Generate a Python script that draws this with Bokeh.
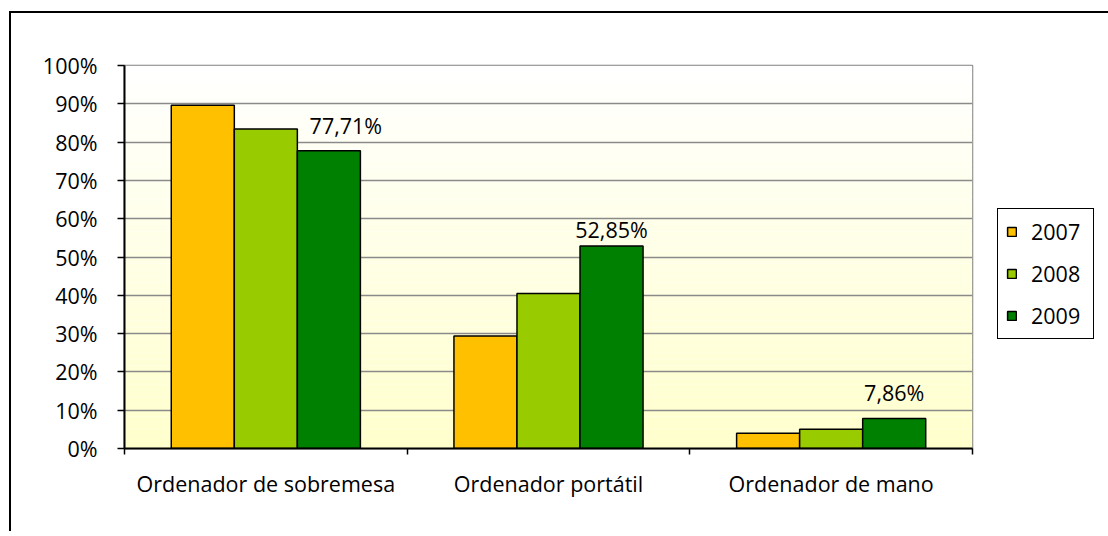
from bokeh.plotting import figure
from bokeh.models import (ColumnDataSource, FixedTicker, Legend, LegendItem,
                          Range1d, InlineStyleSheet)
from bokeh.embed import file_html
from bokeh.resources import INLINE
from bokeh.core.properties import value
import numpy as np

# ---------------- data ----------------
categories = ["Ordenador de sobremesa", "Ordenador portátil", "Ordenador de mano"]
years = ["2007", "2008", "2009"]
v2007 = [89.6, 29.4, 4.0]
v2008 = [83.4, 40.5, 5.0]
v2009 = [77.71, 52.85, 7.86]
label_texts = ["77,71%", "52,85%", "7,86%"]
y_ticks = [0, 10, 20, 30, 40, 50, 60, 70, 80, 90, 100]
y_tick_labels = ["0%", "10%", "20%", "30%", "40%", "50%", "60%", "70%", "80%", "90%", "100%"]

# ---------------- style ----------------
colors = ["#FFC000", "#99CC00", "#008000"]
FONT = "Open Sans"
FS = "21.5px"
bar_w = 0.223
offsets = [-bar_w, 0.0, bar_w]
label_dx = [17, 0, 0]
label_dy = [-11, -2, -11]

border_css = InlineStyleSheet(css=":host { margin-left: 9px; margin-top: 11px; border-left: 2px solid black; border-top: 2px solid black; }")

p = figure(frame_width=848, frame_height=383, x_range=Range1d(0, 3), y_range=Range1d(0, 100),
           output_backend="svg", toolbar_location=None,
           min_border_left=113, min_border_right=129, min_border_top=52, min_border_bottom=83,
           stylesheets=[border_css])
p.background_fill_color = None
p.border_fill_color = "white"
p.outline_line_color = "#808080"
p.outline_line_width = 1.5

# gradient background of plot area (white at top -> light yellow at bottom)
n_bands = 60
edges = np.linspace(0, 100, n_bands + 1)
c_bottom = np.array([255, 255, 204])
c_top = np.array([255, 255, 255])
band_colors = []
for i in range(n_bands):
    t = (edges[i] + edges[i + 1]) / 200.0
    c = c_bottom + (c_top - c_bottom) * t
    band_colors.append("#%02x%02x%02x" % tuple(int(round(x)) for x in c))
p.quad(left=0, right=3, bottom=edges[:-1], top=edges[1:], fill_color=band_colors,
       line_color=None, level="underlay")

# grid
p.xgrid.visible = False
p.ygrid.ticker = FixedTicker(ticks=y_ticks)
p.ygrid.grid_line_color = "#8a8a8a"
p.ygrid.grid_line_width = 1.5
p.ygrid.level = "underlay"

# bars
cat_centers = [i + 0.5 for i in range(len(categories))]
series = [v2007, v2008, v2009]
renderers = []
for k, (yr, vals) in enumerate(zip(years, series)):
    src = ColumnDataSource(dict(x=[c + offsets[k] for c in cat_centers], top=vals))
    r = p.vbar(x="x", top="top", width=bar_w, bottom=0, source=src,
               fill_color=colors[k], line_color="black", line_width=1.5)
    renderers.append(r)

# data labels for 2009
lab_src = ColumnDataSource(dict(x=[c + offsets[2] for c in cat_centers], y=v2009,
                                text=label_texts, dx=label_dx, dy=label_dy))
p.text(x="x", y="y", text="text", x_offset="dx", y_offset="dy", source=lab_src,
       text_align="center", text_baseline="bottom", text_font=value(FONT),
       text_font_size=FS, text_color="black")

# y axis
ya = p.yaxis[0]
ya.ticker = FixedTicker(ticks=y_ticks)
ya.major_label_overrides = {t: l for t, l in zip(y_ticks, y_tick_labels)}
ya.axis_line_color = "black"
ya.axis_line_width = 2
ya.major_tick_line_color = "black"
ya.major_tick_line_width = 1.5
ya.major_tick_out = 7
ya.major_tick_in = 0
ya.minor_tick_line_color = None
ya.major_label_standoff = 20
ya.major_label_text_font = FONT
ya.major_label_text_font_size = FS
ya.major_label_text_color = "black"

# x axis (labels at category centres, ticks at category boundaries)
xa = p.xaxis[0]
xa.ticker = FixedTicker(ticks=cat_centers, minor_ticks=[0, 1, 2, 3])
xa.major_label_overrides = {c: n for c, n in zip(cat_centers, categories)}
xa.axis_line_color = "black"
xa.axis_line_width = 2
xa.major_tick_line_color = None
xa.major_tick_out = 0
xa.major_tick_in = 0
xa.minor_tick_line_color = "black"
xa.minor_tick_line_width = 1.5
xa.minor_tick_out = 6
xa.minor_tick_in = 0
xa.major_label_standoff = 14
xa.major_label_text_font = FONT
xa.major_label_text_font_size = FS
xa.major_label_text_color = "black"

# legend
legend = Legend(items=[LegendItem(label=yr, renderers=[r]) for yr, r in zip(years, renderers)],
                location=(25, 109))
legend.glyph_width = 11
legend.glyph_height = 11
legend.label_text_font = FONT
legend.label_text_font_size = FS
legend.label_text_color = "black"
legend.label_standoff = 14
legend.label_width = 54
legend.label_height = 20
legend.spacing = 13
legend.padding = 8
legend.margin = 0
legend.border_line_color = "black"
legend.border_line_alpha = 1.0
legend.border_line_width = 1.5
legend.background_fill_color = "white"
legend.background_fill_alpha = 1.0
p.add_layout(legend, "right")

open("out.html", "w").write(file_html(p, INLINE))
